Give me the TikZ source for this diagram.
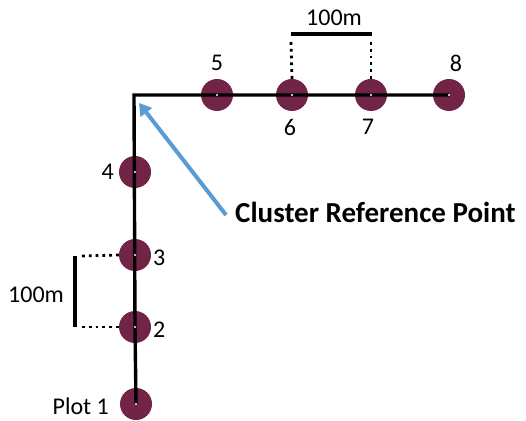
\documentclass[tikz,border=0pt]{standalone}
\usepackage{fontspec}
\usetikzlibrary{arrows.meta}
\setmainfont{Carlito}
\definecolor{plotc}{HTML}{722446}
\definecolor{arrowc}{HTML}{5B9BD5}
\begin{document}
\begin{tikzpicture}[x=1pt,y=1pt,
  plot/.style={circle,fill=plotc,minimum size=32pt,inner sep=0pt},
  lbl/.style={font=\fontsize{24}{28}\selectfont,inner sep=0pt},
  track/.style={line width=3.4pt,black},
  dotline/.style={line width=2.8pt,dash pattern=on 2.8pt off 4pt}]
\useasboundingbox (0,0) rectangle (526,420);
\coordinate (c) at (134,325);
\node[plot] (p5) at (217,325) {};
\node[plot] (p6) at (292,325) {};
\node[plot] (p7) at (371,325) {};
\node[plot] (p8) at (449,325) {};
\node[plot] (p4) at (135,248) {};
\node[plot] (p3) at (135,165) {};
\node[plot] (p2) at (135,93) {};
\node[plot] (p1) at (136,16) {};
\draw[track] (p8.center) -- (c) -- (p2.center) -- (p1.center);
\foreach \n in {p1,p2,p3,p4,p5,p6,p7,p8}{\fill[white] (\n) circle (1.2pt);}
\node[lbl] (l5) at (217,357) {5};
\node[lbl] (l6) at (290,293) {6};
\node[lbl] (l7) at (368,293) {7};
\node[lbl] (l8) at (456,357) {8};
\node[lbl,anchor=east] (l4) at (114,248) {4};
\node[lbl,anchor=west] (l3) at (153,162) {3};
\node[lbl,anchor=west] (l2) at (153,90) {2};
\node[lbl,anchor=east] (l1) at (109,14) {Plot 1};
% top scale
\coordinate (t1) at (291,386);
\coordinate (t2) at (372,386);
\draw[track] (t1) -- (t2);
\draw[dotline] (291,378) -- (p6.north);
\draw[dotline] (371,378) -- (p7.north);
\node[lbl] (s1) at (334,402) {100m};
% left scale
\coordinate (v1) at (75,164);
\coordinate (v2) at (75,93);
\draw[track] (v1) -- (v2);
\draw[dotline] (82,164) -- (p3.west);
\draw[dotline] (82,93) -- (p2.west);
\node[lbl,anchor=west] (s2) at (8,125) {100m};
% arrow
\node[font=\bfseries\fontsize{29}{33}\selectfont,anchor=west,inner sep=0pt] (crp) at (235,208) {Cluster Reference Point};
\coordinate (atip) at (139,317);
\draw[arrowc,line width=4pt,-{Triangle[length=12pt,width=14pt]}] (226,205) -- (atip);
\end{tikzpicture}
\end{document}
